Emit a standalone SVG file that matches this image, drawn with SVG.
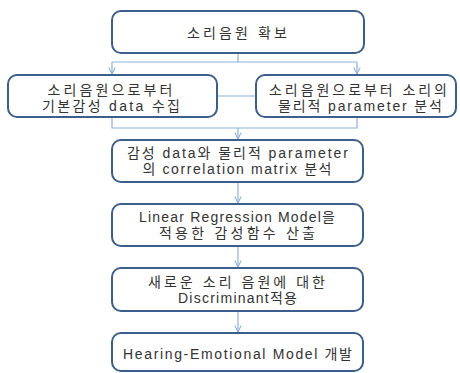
<svg xmlns="http://www.w3.org/2000/svg" width="460" height="373" viewBox="0 0 460 373">
<defs>
<style>
.box{fill:#ffffff;stroke:#3b5e8c;stroke-width:2}
.con{fill:none;stroke:#8fb0dc;stroke-width:1.2}
text{font-family:"Liberation Sans","Noto Sans CJK KR",sans-serif;font-size:14px;fill:#333333;text-anchor:middle}
</style>
<marker id="arr" viewBox="0 0 10 10" refX="9" refY="5" markerWidth="8" markerHeight="8" orient="auto" markerUnits="userSpaceOnUse">
<polyline points="1,1 9,5 1,9" fill="none" stroke="#8fb0dc" stroke-width="1.3"/>
</marker>
</defs>
<rect width="460" height="373" fill="#ffffff"/>
<g id="connectors">
<polyline class="con" points="238,53 238,62"/>
<polyline class="con" points="112,62 357,62"/>
<line class="con" x1="112" y1="62" x2="112" y2="74" marker-end="url(#arr)"/>
<line class="con" x1="357" y1="62" x2="357" y2="74" marker-end="url(#arr)"/>
<line class="con" x1="217" y1="96" x2="256" y2="96"/>
<polyline class="con" points="112,117 112,128 357,128 357,117"/>
<line class="con" x1="238" y1="128" x2="238" y2="139" marker-end="url(#arr)"/>
<line class="con" x1="238" y1="182" x2="238" y2="203" marker-end="url(#arr)"/>
<line class="con" x1="238" y1="246" x2="238" y2="267" marker-end="url(#arr)"/>
<line class="con" x1="238" y1="311" x2="238" y2="332" marker-end="url(#arr)"/>
</g>
<g id="n1">
<rect class="box" x="112" y="11" width="252" height="42" rx="9"/>
<text x="237" y="38" textLength="100" lengthAdjust="spacing">소리음원 확보</text>
</g>
<g id="n2">
<rect class="box" x="8" y="75" width="209" height="42" rx="9"/>
<text x="110" y="95" textLength="125" lengthAdjust="spacing">소리음원으로부터</text>
<text x="111" y="111" textLength="138" lengthAdjust="spacing">기본감성 data 수집</text>
</g>
<g id="n3">
<rect class="box" x="256" y="75" width="200" height="42" rx="9"/>
<text x="358" y="95" textLength="178" lengthAdjust="spacing">소리음원으로부터 소리의</text>
<text x="360" y="111" textLength="164" lengthAdjust="spacing">물리적 parameter 분석</text>
</g>
<g id="n4">
<rect class="box" x="112" y="140" width="251" height="42" rx="9"/>
<text x="237.5" y="158" textLength="221" lengthAdjust="spacing">감성 data와 물리적 parameter</text>
<text x="237" y="174" textLength="189" lengthAdjust="spacing">의 correlation matrix 분석</text>
</g>
<g id="n5">
<rect class="box" x="112" y="204" width="251" height="42" rx="9"/>
<text x="237" y="222" textLength="196" lengthAdjust="spacing">Linear Regression Model을</text>
<text x="237" y="238" textLength="156" lengthAdjust="spacing">적용한 감성함수 산출</text>
</g>
<g id="n6">
<rect class="box" x="112" y="268" width="251" height="43" rx="9"/>
<text x="236.5" y="287" textLength="177" lengthAdjust="spacing">새로운 소리 음원에 대한</text>
<text x="237.5" y="303" textLength="119" lengthAdjust="spacing">Discriminant적용</text>
</g>
<g id="n7">
<rect class="box" x="112" y="333" width="251" height="38" rx="9"/>
<text x="237.5" y="359" textLength="229" lengthAdjust="spacing">Hearing-Emotional Model 개발</text>
</g>
</svg>
